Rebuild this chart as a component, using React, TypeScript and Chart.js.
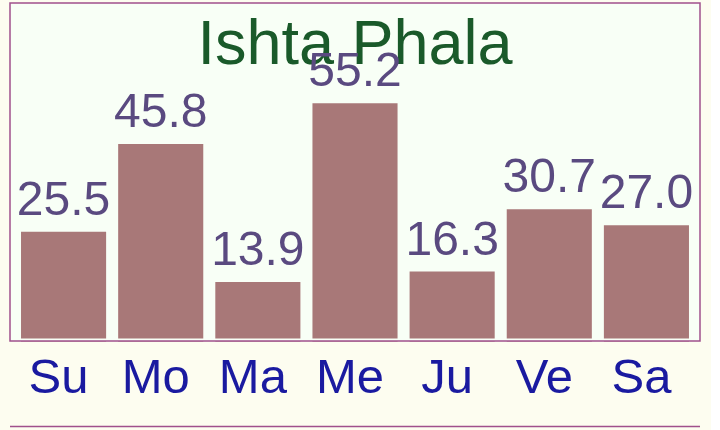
import React, { useEffect, useRef } from "react";
import { Chart, registerables } from "chart.js";

Chart.register(...registerables);

const categories = ["Su", "Mo", "Ma", "Me", "Ju", "Ve", "Sa"];
const values = [25.5, 45.8, 13.9, 55.2, 16.3, 30.7, 27.0];
const titleText = "Ishta Phala";

const OUTER_BG = "#fdfdf0";
const PLOT_BG = "#f8fff6";
const BORDER = "#a0508c";
const BAR = "#a87878";
const LABEL = "#5a4a80";
const TITLE = "#1a5a2a";
const TICK = "#1a1aa0";
const FONT = '"Liberation Sans", Arial, sans-serif';

export default function App() {
  const ref = useRef<HTMLCanvasElement | null>(null);
  useEffect(() => {
    document.body.style.margin = "0";
    const canvas = ref.current!;
    const deco = {
      id: "deco",
      beforeDraw(chart: any) {
        const { ctx, chartArea: a, width, height } = chart;
        ctx.save();
        ctx.fillStyle = OUTER_BG;
        ctx.fillRect(0, 0, width, height);
        ctx.fillStyle = PLOT_BG;
        ctx.fillRect(a.left - 5, a.top, a.right - a.left + 10, a.bottom - a.top - 1);
        ctx.restore();
      },
      afterDatasetsDraw(chart: any) {
        const { ctx, chartArea: a } = chart;
        const L = a.left - 5;
        const R = a.right + 5;
        const B = a.bottom - 1;
        ctx.save();
        // small gap between bars and bottom border
        ctx.fillStyle = PLOT_BG;
        ctx.fillRect(L, B - 2.5, R - L, 3);
        ctx.strokeStyle = BORDER;
        ctx.lineWidth = 1.5;
        ctx.strokeRect(L, a.top, R - L, B - a.top);
        ctx.beginPath();
        ctx.moveTo(L, 426.5);
        ctx.lineTo(R, 426.5);
        ctx.stroke();
        // title
        ctx.fillStyle = TITLE;
        ctx.font = "63px " + FONT;
        ctx.textAlign = "center";
        ctx.textBaseline = "alphabetic";
        ctx.fillText(titleText, (L + R) / 2, 64);
        // value labels
        const meta = chart.getDatasetMeta(0);
        ctx.fillStyle = LABEL;
        ctx.font = "48px " + FONT;
        meta.data.forEach((bar: any, i: number) => {
          ctx.fillText(values[i].toFixed(1), bar.x, bar.y - 17);
        });
        // category labels
        const xs = chart.scales.x;
        ctx.fillStyle = TICK;
        ctx.font = "49px " + FONT;
        categories.forEach((c, i) => {
          ctx.fillText(c, xs.getPixelForTick(i) - 5, 393);
        });
        ctx.restore();
      },
    };
    const chart = new Chart(canvas, {
      type: "bar",
      data: {
        labels: categories,
        datasets: [
          {
            data: values,
            backgroundColor: BAR,
            borderWidth: 0,
            categoryPercentage: 1,
            barPercentage: 0.876,
          },
        ],
      },
      options: {
        animation: false,
        responsive: false,
        layout: { padding: { left: 15, right: 16, top: 3, bottom: 0 } },
        plugins: { legend: { display: false }, tooltip: { enabled: false }, title: { display: false } },
        scales: {
          y: { display: false, min: 0, max: 78.4 },
          x: {
            grid: { display: false },
            border: { display: false },
            ticks: { display: false },
            afterFit: (s: any) => {
              s.height = 88;
            },
          },
        },
      },
      plugins: [deco],
    });
    return () => chart.destroy();
  }, []);
  return (
    <div style={{ width: 711, height: 430, background: OUTER_BG }}>
      <canvas ref={ref} width={711} height={430} style={{ display: "block" }} />
    </div>
  );
}
